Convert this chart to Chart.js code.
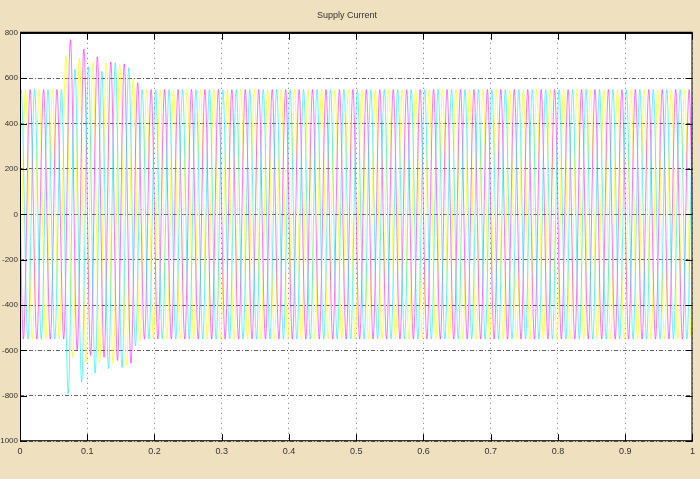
<!DOCTYPE html>
<html>
<head>
<meta charset="utf-8">
<script src="https://cdn.jsdelivr.net/npm/chart.js@4.4.1/dist/chart.umd.min.js"></script>
<style>
  html, body { margin: 0; padding: 0; background: #efe0bf; }
  #wrap { width: 700px; height: 479px; }
</style>
</head>
<body>
<div id="wrap"><canvas id="scope"></canvas></div>
<script>
// supply current, three phases, peak value of every half cycle (A)
const halfPeriod = 0.01;           // 50 Hz
const phaseStart = [0.005, 0.00167, 0.00833];
const edgeValues = [0, 476, -476]; // value at t = 0 and t = 1

const peaksMagenta = [
  -550, 550, -550, 550, -550, 550, -550, 770, -600, 729,
  -622, 694, -630, 672, -644, 663, -657, 580, -550, 550,
  -550, 550, -550, 550, -550, 550, -550, 550, -550, 550,
  -550, 550, -550, 550, -550, 550, -550, 550, -550, 550,
  -550, 550, -550, 550, -550, 550, -550, 550, -550, 550,
  -550, 550, -550, 550, -550, 550, -550, 550, -550, 550,
  -550, 550, -550, 550, -550, 550, -550, 550, -550, 550,
  -550, 550, -550, 550, -550, 550, -550, 550, -550, 550,
  -550, 550, -550, 550, -550, 550, -550, 550, -550, 550,
  -550, 550, -550, 550, -550, 550, -550, 550, -550, 550
];
const peaksCyan = [
  550, -550, 550, -550, 550, -550, 550, -790, 640, -740,
  650, -700, 630, -680, 668, -675, 646, -580, 550, -550,
  550, -550, 550, -550, 550, -550, 550, -550, 550, -550,
  550, -550, 550, -550, 550, -550, 550, -550, 550, -550,
  550, -550, 550, -550, 550, -550, 550, -550, 550, -550,
  550, -550, 550, -550, 550, -550, 550, -550, 550, -550,
  550, -550, 550, -550, 550, -550, 550, -550, 550, -550,
  550, -550, 550, -550, 550, -550, 550, -550, 550, -550,
  550, -550, 550, -550, 550, -550, 550, -550, 550, -550,
  550, -550, 550, -550, 550, -550, 550, -550, 550, -550
];
const peaksYellow = [
  550, -550, 550, -550, 550, -550, 700, -630, 690, -650,
  672, -655, 665, -660, 660, -666, 600, -560, 550, -550,
  550, -550, 550, -550, 550, -550, 550, -550, 550, -550,
  550, -550, 550, -550, 550, -550, 550, -550, 550, -550,
  550, -550, 550, -550, 550, -550, 550, -550, 550, -550,
  550, -550, 550, -550, 550, -550, 550, -550, 550, -550,
  550, -550, 550, -550, 550, -550, 550, -550, 550, -550,
  550, -550, 550, -550, 550, -550, 550, -550, 550, -550,
  550, -550, 550, -550, 550, -550, 550, -550, 550, -550,
  550, -550, 550, -550, 550, -550, 550, -550, 550, -550
];

const xTicks = [0, 0.1, 0.2, 0.3, 0.4, 0.5, 0.6, 0.7, 0.8, 0.9, 1];
const yTicks = [800, 600, 400, 200, 0, -200, -400, -600, -800, -1000];

function buildSeries(t0, peaks, edge) {
  let pts = [{ x: 0, y: edge }];
  peaks.forEach(function(v, j) {
    pts.push({ x: t0 + j * halfPeriod, y: v });
  });
  pts.push({ x: 1, y: edge });
  return pts;
}

// black frame + inside tick marks, matlab style
const frame = {
  id: "frame",
  afterDatasetsDraw(chart) {
    const c = chart.ctx, a = chart.chartArea;
    const xs = chart.scales.x, ys = chart.scales.y;
    c.save();
    c.strokeStyle = "#000";
    c.lineWidth = 1;
    c.strokeRect(a.left + 0.5, a.top + 0.5, a.right - a.left - 1, a.bottom - a.top - 1);
    c.lineWidth = 2;
    c.beginPath();
    c.moveTo(a.left, a.top);
    c.lineTo(a.right, a.top);
    c.stroke();
    c.lineWidth = 1;
    c.beginPath();
    yTicks.forEach(function(v) {
      let p = Math.round(ys.getPixelForValue(v)) + 0.5;
      c.moveTo(a.left, p); c.lineTo(a.left + 7, p);
      c.moveTo(a.right, p); c.lineTo(a.right - 7, p);
    });
    xTicks.forEach(function(v) {
      let p = Math.round(xs.getPixelForValue(v)) + 0.5;
      c.moveTo(p, a.bottom); c.lineTo(p, a.bottom - 7);
      c.moveTo(p, a.top); c.lineTo(p, a.top + 7);
    });
    c.stroke();
    c.restore();
  }
};

const plotBg = {
  id: "plotBg",
  beforeDraw(chart) {
    const c = chart.ctx, a = chart.chartArea;
    c.save();
    c.fillStyle = "#efe0bf";
    c.fillRect(0, 0, chart.width, chart.height);
    c.fillStyle = "#ffffff";
    c.fillRect(a.left, a.top, a.right - a.left, a.bottom - a.top);
    c.restore();
  }
};

document.addEventListener("DOMContentLoaded", function() {
  let ctx = document.getElementById("scope").getContext("2d");

  new Chart(ctx, {
    type: "line",
    data: {
      datasets: [{
        label: "Phase a",
        data: buildSeries(phaseStart[0], peaksMagenta, edgeValues[0]),
        borderColor: "rgba(255, 0, 255, 0.55)",
        order: 2
      }, {
        label: "Phase b",
        data: buildSeries(phaseStart[1], peaksCyan, edgeValues[1]),
        borderColor: "rgba(0, 240, 240, 0.6)",
        order: 1
      }, {
        label: "Phase c",
        data: buildSeries(phaseStart[2], peaksYellow, edgeValues[2]),
        borderColor: "rgba(255, 255, 0, 0.7)",
        order: 3
      }]
    },
    options: {
      responsive: true,
      maintainAspectRatio: false,
      animation: false,
      layout: { padding: { left: 0, right: 6, top: 0, bottom: 17 } },
      elements: {
        point: { radius: 0 },
        line: { borderWidth: 1, cubicInterpolationMode: "monotone" }
      },
      plugins: {
        legend: { display: false },
        tooltip: { enabled: false },
        title: {
          display: true,
          text: "Supply Current",
          color: "#333",
          font: { family: "Liberation Sans Narrow, Liberation Sans", size: 9, weight: "normal" },
          padding: { top: 10, bottom: 12 }
        }
      },
      scales: {
        x: {
          type: "linear",
          min: 0,
          max: 1,
          afterBuildTicks: function(s) { s.ticks = xTicks.map(function(v) { return { value: v }; }); },
          ticks: {
            color: "#333",
            maxRotation: 0,
            padding: 5,
            font: { family: "Liberation Sans Narrow, Liberation Sans", size: 9 },
            callback: function(v) { return String(Math.round(v * 10) / 10); }
          },
          grid: { color: "rgba(70, 70, 70, 0.7)", drawTicks: false },
          border: { display: false, dash: [1, 4] }
        },
        y: {
          min: -1000,
          max: 800,
          afterBuildTicks: function(s) { s.ticks = yTicks.map(function(v) { return { value: v }; }); },
          afterFit: function(s) { s.width = 20; },
          ticks: {
            color: "#333",
            padding: 2,
            font: { family: "Liberation Sans Narrow, Liberation Sans", size: 8 },
            callback: function(v) { return String(v); }
          },
          grid: { color: "rgba(50, 50, 50, 0.75)", drawTicks: false },
          border: { display: false, dash: [4, 2, 1, 2] }
        }
      }
    },
    plugins: [plotBg, frame]
  });
});
</script>
</body>
</html>
